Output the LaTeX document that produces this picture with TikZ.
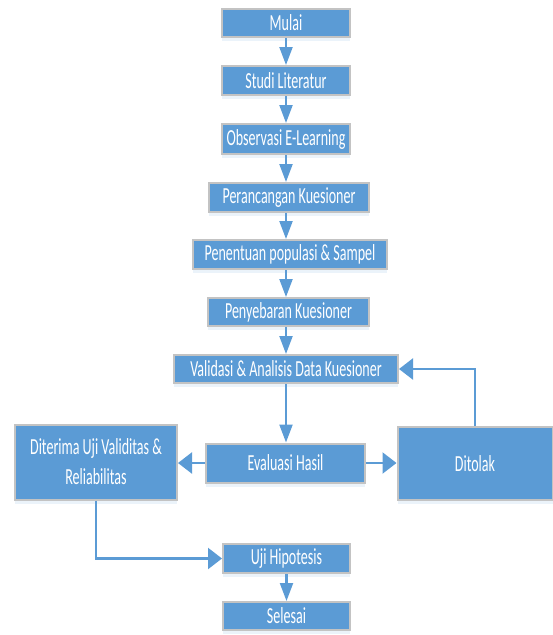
\documentclass[tikz,border=0pt]{standalone}
\usepackage{fontspec}
\usetikzlibrary{arrows.meta,shadows}
\newfontfamily\boxfont[FakeStretch=0.61]{Carlito}
\definecolor{boxblue}{HTML}{5B9BD5}
\definecolor{boxline}{HTML}{C3C3C3}
\begin{document}
\begin{tikzpicture}[x=1pt,y=-1pt,
  box/.style={draw=boxline,line width=2pt,fill=boxblue,text=white,
    inner sep=0pt,align=center,
    font=\boxfont\fontsize{23}{30}\selectfont,
    drop shadow={shadow xshift=0pt,shadow yshift=-4pt,opacity=0.12,fill=boxblue}},
  flow/.style={draw=boxblue,line width=2.2pt},
  vflow/.style={flow,-{Triangle[length=18pt,width=13pt]}},
  hflow/.style={flow,-{Triangle[length=14pt,width=21pt]}}]
  \useasboundingbox (0,0) rectangle (553,635);
  % main chain
  \node[box,minimum width=128pt,minimum height=28pt] (mulai) at (286,23) {Mulai};
  \node[box,minimum width=128pt,minimum height=29pt] (studi) at (286,80.5) {Studi Literatur};
  \node[box,minimum width=128pt,minimum height=30pt] (observasi) at (286,139) {Observasi E-Learning};
  \node[box,minimum width=160pt,minimum height=29pt] (perancangan) at (289,197.5) {Perancangan Kuesioner};
  \node[box,minimum width=194pt,minimum height=29pt] (penentuan) at (290,254.5) {Penentuan populasi \& Sampel};
  \node[box,minimum width=161pt,minimum height=28pt] (penyebaran) at (288.5,312) {Penyebaran Kuesioner};
  \node[box,minimum width=224pt,minimum height=28pt] (validasi) at (286,369) {Validasi \& Analisis Data Kuesioner};
  \node[box,minimum width=159pt,minimum height=39pt] (evaluasi) at (285.5,463) {Evaluasi Hasil};
  \node[box,minimum width=162pt,minimum height=75pt] (diterima) at (96,462) {Diterima Uji Validitas \&\\Reliabilitas};
  \node[box,minimum width=155pt,minimum height=73pt] (ditolak) at (475,463.5) {Ditolak};
  \node[box,minimum width=127pt,minimum height=29pt] (uji) at (286.5,558.5) {Uji Hipotesis};
  \node[box,minimum width=127pt,minimum height=28pt] (selesai) at (286.5,616) {Selesai};

  % arrows
  \draw[vflow] (mulai.south) -- (studi.north);
  \draw[vflow] (studi.south) -- (observasi.north);
  \draw[vflow] (observasi.south) -- (observasi.south |- perancangan.north);
  \draw[vflow] (observasi.south |- perancangan.south) -- (observasi.south |- penentuan.north);
  \draw[vflow] (observasi.south |- penentuan.south) -- (observasi.south |- penyebaran.north);
  \draw[vflow] (observasi.south |- penyebaran.south) -- (validasi.north);
  \draw[vflow] (validasi.south) -- (validasi.south |- evaluasi.north);
  \draw[hflow] (evaluasi.west) -- (diterima.east |- evaluasi.west);
  \draw[hflow] (evaluasi.east) -- (ditolak.west |- evaluasi.east);
  \draw[hflow] (ditolak.north) |- (validasi.east);
  \draw[hflow] (diterima.south) |- (uji.west);
  \draw[vflow] (uji.south) -- (selesai.north);
\end{tikzpicture}
\end{document}
